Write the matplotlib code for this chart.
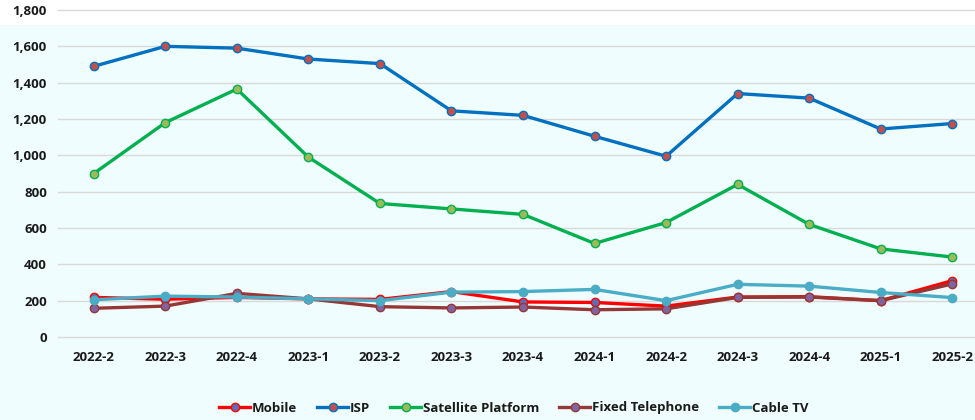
import matplotlib
matplotlib.use("Agg")
import matplotlib.pyplot as plt
from matplotlib.patches import Rectangle

categories = ["2022-2", "2022-3", "2022-4", "2023-1", "2023-2", "2023-3", "2023-4",
              "2024-1", "2024-2", "2024-3", "2024-4", "2025-1", "2025-2"]
mobile = [218, 208, 218, 210, 207, 250, 193, 190, 170, 220, 222, 200, 310]
isp = [1490, 1600, 1590, 1530, 1505, 1245, 1220, 1105, 995, 1340, 1315, 1145, 1175]
satellite = [900, 1180, 1365, 990, 735, 705, 675, 515, 630, 840, 620, 485, 440]
fixed_tel = [158, 170, 240, 210, 167, 160, 165, 150, 155, 218, 220, 200, 292]
cable_tv = [205, 225, 220, 210, 200, 247, 250, 262, 200, 290, 280, 245, 217]
yticks = [0, 200, 400, 600, 800, 1000, 1200, 1400, 1600, 1800]

series = [
    ("Mobile", mobile, "#FF0000", "#5B6FB5", "#FF0000"),
    ("ISP", isp, "#0070C0", "#C0504D", "#0070C0"),
    ("Satellite Platform", satellite, "#00B050", "#9BBB59", "#00B050"),
    ("Fixed Telephone", fixed_tel, "#953735", "#8064A2", "#953735"),
    ("Cable TV", cable_tv, "#4BACC6", "#4BACC6", "#4BACC6"),
]

plt.rcParams['font.family'] = ['Open Sans', 'DejaVu Sans']
bg = "#F0FDFE"
fig = plt.figure(figsize=(9.75, 4.2), dpi=100, facecolor=bg)
fig.patches.append(Rectangle((0, 1 - 25/420), 1, 25/420, transform=fig.transFigure,
                             facecolor="white", edgecolor="none", zorder=-10))
ax = fig.add_axes([58/975, (420-337)/420, (988-58)/975, (337-10)/420])
ax.set_facecolor("none")
ax.set_zorder(1)

x = list(range(len(categories)))
order = [1, 2, 3, 0, 4]
for i in order:
    name, vals, lc, mfc, mec = series[i]
    ax.plot(x, vals, color=lc, lw=2.4, marker="o", markersize=6,
            markerfacecolor=mfc, markeredgecolor=mec, markeredgewidth=1.0,
            label=name, zorder=3 + i, clip_on=False)

ax.set_xlim(-0.5, len(categories) - 0.5)
ax.set_ylim(0, 1800)
ax.set_yticks(yticks)
ax.set_yticklabels([f"{v:,}" for v in yticks], fontsize=9.5, fontweight="bold", color="#1a1a1a")
ax.set_xticks(x)
ax.set_xticklabels(categories, fontsize=9.5, fontweight="bold", color="#1a1a1a")
ax.tick_params(axis="both", length=0)
ax.tick_params(axis="x", pad=10)
ax.tick_params(axis="y", pad=8)
ax.grid(axis="y", color="#D9D9D9", lw=1, clip_on=False)
ax.set_axisbelow(True)
for s in ax.spines.values():
    s.set_visible(False)

handles, labels = ax.get_legend_handles_labels()
hmap = dict(zip(labels, handles))
names = [s[0] for s in series]
leg = fig.legend([hmap[n] for n in names], names, loc="center", bbox_to_anchor=(514/975, 1 - 408/420),
                 ncol=5, frameon=False, handlelength=2.35, handletextpad=0.15, columnspacing=1.5,
                 prop={"size": 9.5, "weight": "bold"})
for t in leg.get_texts():
    t.set_color("#1a1a1a")

fig.savefig("out.png", dpi=100, facecolor=fig.get_facecolor())
